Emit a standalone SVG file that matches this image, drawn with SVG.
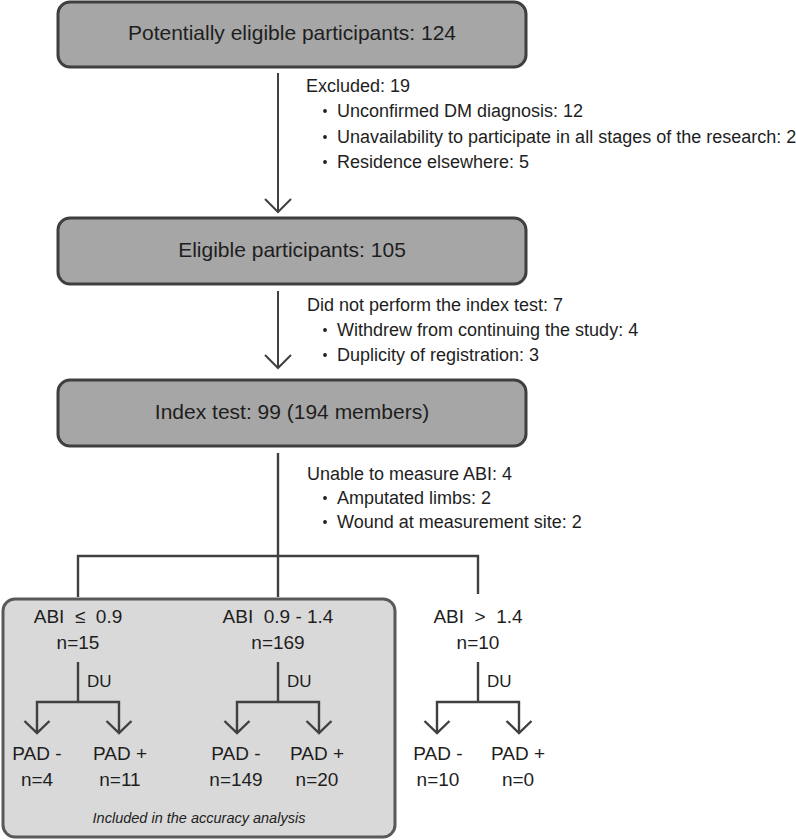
<svg xmlns="http://www.w3.org/2000/svg" width="796" height="840" viewBox="0 0 796 840">
<style>
text{font-family:"Liberation Sans",Arial,sans-serif;fill:#1e1e1e}
.box{fill:#a6a6a6;stroke:#3f3f3f;stroke-width:3}
.big{font-size:21px;text-anchor:middle}
.note{font-size:18px}
.lab{font-size:19px;text-anchor:middle}
.du{font-size:17px}
.ln{fill:none;stroke:#404040;stroke-width:2}
.tr{fill:none;stroke:#404040;stroke-width:2.4}
.dot{fill:#1e1e1e}
</style>
<rect width="796" height="840" fill="#ffffff"/>
<g id="included-box">
<rect x="3" y="599" width="392" height="238" rx="12" fill="#d9d9d9" stroke="#595959" stroke-width="3"/>
<text x="199" y="823" font-size="14.5" font-style="italic" text-anchor="middle">Included in the accuracy analysis</text>
</g>
<g id="connectors">
<line class="ln" x1="278" y1="73" x2="278" y2="212"/>
<polyline class="ln" points="265,199 278,212 291,199"/>
<line class="ln" x1="278" y1="291" x2="278" y2="368"/>
<polyline class="ln" points="265,355 278,368 291,355"/>
<line class="tr" x1="278" y1="453" x2="278" y2="556"/>
<polyline class="tr" points="78,597 78,556 478,556 478,594"/>
<line class="tr" x1="278" y1="556" x2="278" y2="597"/>
<polyline class="tr" points="78,662 78,702"/>
<polyline class="tr" points="37,733 37,702 119,702 119,733"/>
<polyline class="tr" points="24.5,721 37,733 49.5,721"/>
<polyline class="tr" points="106.5,721 119,733 131.5,721"/>
<polyline class="tr" points="278,662 278,702"/>
<polyline class="tr" points="237,733 237,702 319,702 319,733"/>
<polyline class="tr" points="224.5,721 237,733 249.5,721"/>
<polyline class="tr" points="306.5,721 319,733 331.5,721"/>
<polyline class="tr" points="478,662 478,702"/>
<polyline class="tr" points="437,733 437,702 519,702 519,733"/>
<polyline class="tr" points="424.5,721 437,733 449.5,721"/>
<polyline class="tr" points="506.5,721 519,733 531.5,721"/>
</g>
<g id="potentially-eligible">
<rect class="box" x="58" y="2" width="468" height="65" rx="12"/>
<text class="big" x="292" y="40">Potentially eligible participants: 124</text>
</g>
<g id="excluded">
<text class="note" x="306" y="92">Excluded: 19</text>
<circle class="dot" cx="325" cy="111" r="1.9"/>
<text class="note" x="337" y="117">Unconfirmed DM diagnosis: 12</text>
<circle class="dot" cx="325" cy="137" r="1.9"/>
<text class="note" x="337" y="143">Unavailability to participate in all stages of the research: 2</text>
<circle class="dot" cx="325" cy="162" r="1.9"/>
<text class="note" x="337" y="168">Residence elsewhere: 5</text>
</g>
<g id="eligible">
<rect class="box" x="58" y="218" width="468" height="66" rx="12"/>
<text class="big" x="292" y="257">Eligible participants: 105</text>
</g>
<g id="not-performed">
<text class="note" x="307" y="311">Did not perform the index test: 7</text>
<circle class="dot" cx="325" cy="330" r="1.9"/>
<text class="note" x="337" y="336">Withdrew from continuing the study: 4</text>
<circle class="dot" cx="325" cy="355" r="1.9"/>
<text class="note" x="337" y="361">Duplicity of registration: 3</text>
</g>
<g id="index-test">
<rect class="box" x="58" y="380" width="468" height="66" rx="12"/>
<text class="big" x="292" y="419">Index test: 99 (194 members)</text>
</g>
<g id="unable">
<text class="note" x="307" y="480">Unable to measure ABI: 4</text>
<circle class="dot" cx="325" cy="498" r="1.9"/>
<text class="note" x="337" y="504">Amputated limbs: 2</text>
<circle class="dot" cx="325" cy="522" r="1.9"/>
<text class="note" x="337" y="528">Wound at measurement site: 2</text>
</g>
<g id="abi-low">
<text class="lab" x="78" y="623" xml:space="preserve">ABI  ≤  0.9</text>
<text class="lab" x="78" y="649">n=15</text>
<text class="du" x="87" y="687">DU</text>
</g>
<g id="abi-low-neg"><text class="lab" x="37" y="760">PAD -</text><text class="lab" x="37" y="786">n=4</text></g>
<g id="abi-low-pos"><text class="lab" x="120" y="760">PAD +</text><text class="lab" x="120" y="786">n=11</text></g>
<g id="abi-mid">
<text class="lab" x="278" y="623" xml:space="preserve">ABI  0.9 - 1.4</text>
<text class="lab" x="278" y="649">n=169</text>
<text class="du" x="287" y="687">DU</text>
</g>
<g id="abi-mid-neg"><text class="lab" x="236" y="760">PAD -</text><text class="lab" x="236" y="786">n=149</text></g>
<g id="abi-mid-pos"><text class="lab" x="317" y="760">PAD +</text><text class="lab" x="317" y="786">n=20</text></g>
<g id="abi-high">
<text class="lab" x="478" y="623" xml:space="preserve">ABI  &gt;  1.4</text>
<text class="lab" x="478" y="649">n=10</text>
<text class="du" x="487" y="687">DU</text>
</g>
<g id="abi-high-neg"><text class="lab" x="438" y="760">PAD -</text><text class="lab" x="438" y="786">n=10</text></g>
<g id="abi-high-pos"><text class="lab" x="518" y="760">PAD +</text><text class="lab" x="518" y="786">n=0</text></g>
</svg>
